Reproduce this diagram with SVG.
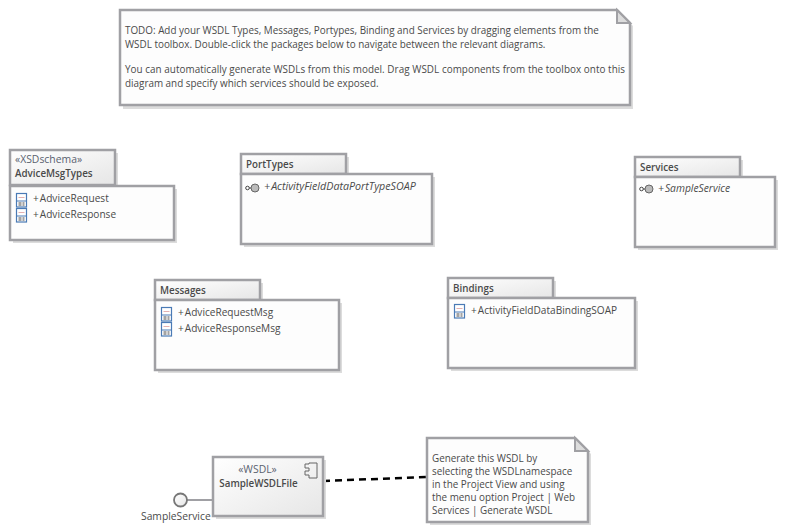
<svg xmlns="http://www.w3.org/2000/svg" width="785" height="532" viewBox="0 0 785 532">
<style>
text{font-family:"Open Sans","Noto Sans","Liberation Sans",sans-serif;font-size:9.9px;fill:#4a4a4a}
.b{font-weight:600;font-size:9.8px}
.i{font-style:italic;font-size:10.3px}
.a{font-size:10.1px}
.st{font-size:10.4px;fill:#5a6270}
.s{fill:#dcdcdc;stroke:none}
.f{fill:url(#g);stroke:#a0a0a4;stroke-width:2.5}
.w{fill:#fdfdfd;stroke:#a0a0a4;stroke-width:2.5}
.ic{fill:#fff;stroke:#4a7ab5;stroke-width:1.2}
</style>
<defs>
<linearGradient id="g" x1="0" y1="0" x2="1" y2="1"><stop offset="0" stop-color="#fff"/><stop offset="1" stop-color="#e6e6e6"/></linearGradient>
<g id="cls"><rect x="0.5" y="0.5" width="10" height="13.500" class="ic"/><path d="M2.500 4.500H8.500" stroke="#e0a8a8" stroke-width="0.9"/><path d="M1 8H10" stroke="#4a7ab5" fill="none"/><path d="M2.500 10H5.500M6.500 10H8.500M2.500 12H5.500M6.500 12H8.500" stroke="#333" stroke-width="0.9"/></g>
<g id="ifc"><circle cx="10" cy="4" r="4" fill="#bbb" stroke="#666" stroke-width="1"/><circle cx="2.500" cy="4" r="1.800" fill="#fff" stroke="#444" stroke-width="1"/><path d="M4.300 4H6" stroke="#444"/></g>
</defs>
<g id="connectors">
<path d="M187 500H213" fill="none" stroke="#a0a0a4" stroke-width="2"/>
<path d="M323 481L427 477" fill="none" stroke="#000" stroke-width="2.500" stroke-dasharray="7 5"/>
</g>
<g id="note-todo">
<path d="M123 13H620L633 26V109H123Z" class="s"/>
<path d="M120 10H617L630 23V105H120Z" fill="#fdfdfd" stroke="#a0a0a4" stroke-width="2.500"/>
<path d="M617 10V23H630Z" fill="#dcdcdc" stroke="#a0a0a4" stroke-width="2"/>
<text x="125" y="34">TODO: Add your WSDL Types, Messages, Portypes, Binding and Services by dragging elements from the</text>
<text x="125" y="48">WSDL toolbox. Double-click the packages below to navigate between the relevant diagrams.</text>
<text x="125" y="73" textLength="500">You can automatically generate WSDLs from this model. Drag WSDL components from the toolbox onto this</text>
<text x="125" y="87">diagram and specify which services should be exposed.</text>
</g>
<g id="pkg-advicemsgtypes">
<rect x="13" y="153" width="105" height="35" class="s"/><rect x="13" y="189" width="164" height="54" class="s"/>
<rect x="10" y="150" width="105" height="35" class="f"/><rect x="10" y="186" width="164" height="54" class="w"/>
<text x="15" y="163" class="st">«XSDschema»</text><text x="15" y="176.500" class="b">AdviceMsgTypes</text>
<use href="#cls" x="16" y="193"/><use href="#cls" x="16" y="208"/>
<text x="33" y="201.500" class="a">+<tspan dx="1">AdviceRequest</tspan></text><text x="33" y="217.500" class="a">+<tspan dx="1">AdviceResponse</tspan></text>
</g>
<g id="pkg-porttypes">
<rect x="244" y="157" width="105" height="25" class="s"/><rect x="244" y="177" width="191" height="70" class="s"/>
<rect x="241" y="154" width="105" height="20" class="f"/><rect x="241" y="174" width="191" height="70" class="w"/>
<text x="246" y="167.500" class="b">PortTypes</text>
<use href="#ifc" x="245" y="184"/>
<text x="264" y="189.500" class="i" style="font-size:10.700px">+<tspan dx="1">ActivityFieldDataPortTypeSOAP</tspan></text>
</g>
<g id="pkg-services">
<rect x="638" y="160" width="105" height="25" class="s"/><rect x="638" y="180" width="140" height="70" class="s"/>
<rect x="635" y="157" width="105" height="20" class="f"/><rect x="635" y="177" width="140" height="70" class="w"/>
<text x="640" y="170.500" class="b">Services</text>
<use href="#ifc" x="639" y="185"/>
<text x="658" y="192" class="i">+<tspan dx="1">SampleService</tspan></text>
</g>
<g id="pkg-messages">
<rect x="158" y="283" width="105" height="25" class="s"/><rect x="158" y="303" width="184" height="70" class="s"/>
<rect x="155" y="280" width="105" height="20" class="f"/><rect x="155" y="300" width="184" height="70" class="w"/>
<text x="160" y="293.500" class="b">Messages</text>
<use href="#cls" x="161" y="307"/><use href="#cls" x="161" y="322"/>
<text x="178" y="315.500" class="a">+<tspan dx="1">AdviceRequestMsg</tspan></text><text x="178" y="331.500" class="a">+<tspan dx="1">AdviceResponseMsg</tspan></text>
</g>
<g id="pkg-bindings">
<rect x="451" y="281" width="105" height="25" class="s"/><rect x="451" y="301" width="187" height="70" class="s"/>
<rect x="448" y="278" width="105" height="20" class="f"/><rect x="448" y="298" width="187" height="70" class="w"/>
<text x="453" y="291.500" class="b">Bindings</text>
<use href="#cls" x="454" y="304"/>
<text x="471" y="313.500" class="a">+<tspan dx="1">ActivityFieldDataBindingSOAP</tspan></text>
</g>
<g id="iface-sampleservice">
<circle cx="180.500" cy="500" r="6.500" fill="url(#g)" stroke="#777" stroke-width="1.800"/>
<text x="141" y="520" style="font-size:10.300px">SampleService</text>
</g>
<g id="comp-samplewsdlfile">
<rect x="216" y="460" width="110" height="59" class="s"/>
<rect x="213" y="457" width="110" height="59" class="f"/>
<text x="257.500" y="473" text-anchor="middle" class="st">«WSDL»</text>
<text x="258.500" y="486.500" text-anchor="middle" class="b">SampleWSDLFile</text>
<path d="M309 463H317V478H309V475H305V471H309V468H305V464H309Z" fill="none" stroke="#666"/>
</g>
<g id="note-generate">
<path d="M430 441H578L591 454V525H430Z" class="s"/>
<path d="M427 438H575L588 451V522H427Z" fill="#fdfdfd" stroke="#a0a0a4" stroke-width="2.500"/>
<path d="M575 438V451H588Z" fill="#dcdcdc" stroke="#a0a0a4" stroke-width="2"/>
<text x="432" y="461.500">Generate this WSDL by</text>
<text x="432" y="474.500">selecting the WSDLnamespace</text>
<text x="432" y="487.500">in the Project View and using</text>
<text x="432" y="501">the menu option Project | Web</text>
<text x="432" y="514">Services | Generate WSDL</text>
</g>
</svg>
